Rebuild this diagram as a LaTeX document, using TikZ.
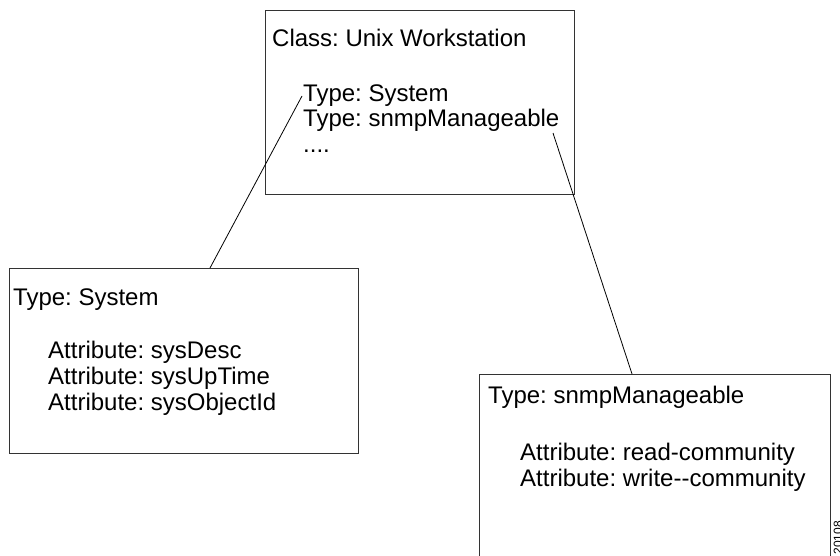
\documentclass[tikz,border=0pt]{standalone}
\usepackage{fontspec}
\setmainfont{Liberation Sans}
\frenchspacing
\begin{document}
\begin{tikzpicture}[x=1pt,y=-1pt,
  box/.style={draw=black!80,line width=1pt},
  txt/.style={anchor=base west,inner sep=0pt,font=\fontsize{24}{26}\selectfont},
  link/.style={draw=black,line width=0.8pt}]
\path[use as bounding box] (0,0) rectangle (840,556);
\begin{scope}
\clip (0,0) rectangle (840,556);
% boxes
\draw[box] (265,11) rectangle (574,195);
\draw[box] (9,268) rectangle (358,453);
\draw[box] (479,374) -- (830,374) (479,374) -- (479,570) (830,374) -- (830,570);
% texts
\node[txt] (cls) at (272,47) {Class: Unix Workstation};
\node[txt] (tsys) at (303,102) {Type: System};
\node[txt] (tsnmp) at (303,127) {Type: snmpManageable};
\node[txt] (dots) at (303,153) {....};
\node[txt] (lsys) at (13,305) {Type: System};
\node[txt] (a1) at (48,358) {Attribute: sysDesc};
\node[txt] (a2) at (48,384) {Attribute: sysUpTime};
\node[txt] (a3) at (48,410) {Attribute: sysObjectId};
\node[txt] (rsnmp) at (488,403) {Type: snmpManageable};
\node[txt] (b1) at (520,460) {Attribute: read-community};
\node[txt] (b2) at (520,486) {Attribute: write{-}{-}community};
% connectors
\coordinate (c1a) at (302,96);
\coordinate (c1b) at (210,268);
\coordinate (c2a) at (553,133);
\coordinate (c2b) at (632,374);
\draw[link] (c1a) -- (c1b);
\draw[link] (c2a) -- (c2b);
% figure number
\node[inner sep=0pt,anchor=east,rotate=90,font=\fontsize{12}{12}\selectfont] (fig) at (838,521) {20108};
\end{scope}
\end{tikzpicture}
\end{document}
